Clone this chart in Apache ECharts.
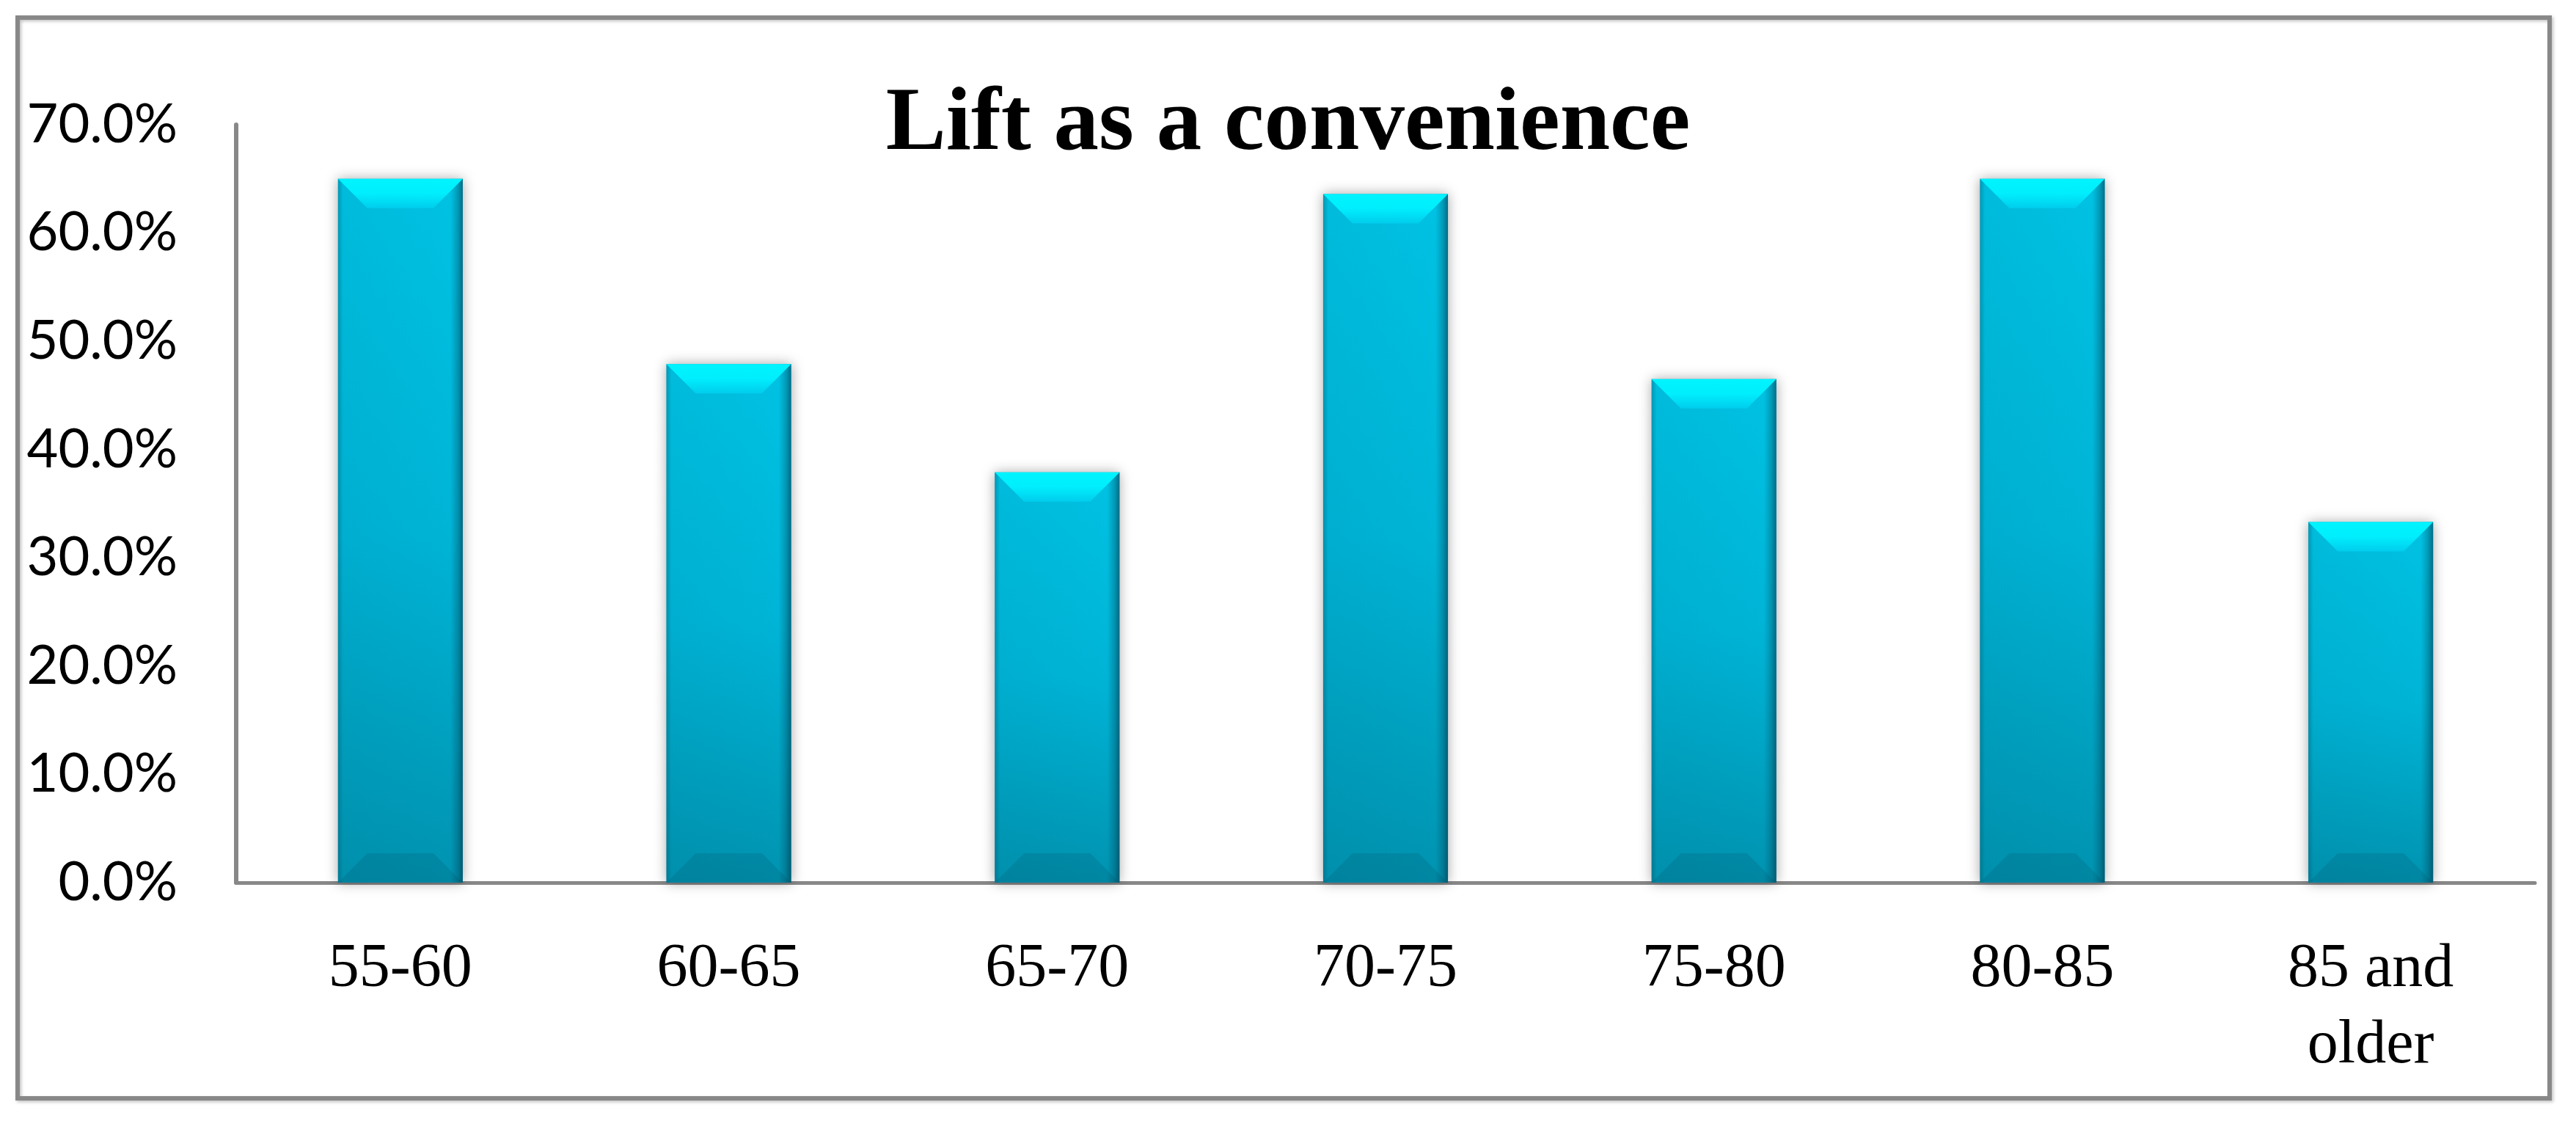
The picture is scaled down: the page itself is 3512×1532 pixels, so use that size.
<!DOCTYPE html>
<html>
<head>
<meta charset="utf-8">
<title>Lift as a convenience</title>
<script src="https://cdn.jsdelivr.net/npm/echarts@6/dist/echarts.min.js"></script>
<style>
  html, body { margin: 0; padding: 0; background: #fff; }
  #main { width: 3512px; height: 1532px; }
</style>
</head>
<body>
<div id="main"></div>
<script>
// age groups and share of people who see the lift as a convenience (%)
var categories = ['55-60', '60-65', '65-70', '70-75', '75-80', '80-85', '85 and\nolder'];
var liftValues = [65.0, 47.9, 37.9, 63.6, 46.5, 65.0, 33.3];
var yTicks = [0, 10, 20, 30, 40, 50, 60, 70];

var chart = echarts.init(document.getElementById('main'));

// bevelled 3d-looking bar, drawn from the axis scales
var renderBar = function (params, api) {
	var top = api.coord([api.value(0), api.value(1)]);
	var base = api.coord([api.value(0), 0]);
	var w = api.size([1, 0])[0] * 0.38;
	var x0 = top[0] - w / 2, x1 = top[0] + w / 2;
	var y0 = top[1], y1 = base[1];
	var b = Math.min(40, (y1 - y0) / 3);
	return {
		type: 'group',
		children: [
			{
				type: 'rect',
				shape: { x: x0, y: y0, width: w, height: y1 - y0 },
				style: {
					fill: { type: 'linear', x: 0, y: 0, x2: 0, y2: 1, colorStops: [
						{ offset: 0, color: '#00c2e3' },
						{ offset: 0.5, color: '#00b4d6' },
						{ offset: 1, color: '#0093b0' }
					] },
					shadowBlur: 16,
					shadowColor: 'rgba(0,0,0,0.35)'
				}
			},
			{
				type: 'rect',
				shape: { x: x0, y: y0, width: w, height: y1 - y0 },
				style: {
					fill: { type: 'linear', x: 0, y: 0, x2: 1, y2: 0, colorStops: [
						{ offset: 0, color: 'rgba(0,70,90,0.35)' },
						{ offset: 0.04, color: 'rgba(0,70,90,0.05)' },
						{ offset: 0.9, color: 'rgba(0,70,90,0)' },
						{ offset: 0.96, color: 'rgba(0,60,80,0.3)' },
						{ offset: 1, color: 'rgba(0,50,70,0.6)' }
					] }
				}
			},
			{
				type: 'polygon',
				shape: { points: [[x0, y0], [x1, y0], [x1 - b, y0 + b], [x0 + b, y0 + b]] },
				style: {
					fill: { type: 'linear', x: 0, y: 0, x2: 0, y2: 1, colorStops: [
						{ offset: 0, color: '#00f4ff' },
						{ offset: 0.5, color: '#00eefd' },
						{ offset: 1, color: '#00cdec' }
					] }
				}
			},
			{
				type: 'polygon',
				shape: { points: [[x0 + b, y1 - b], [x1 - b, y1 - b], [x1, y1], [x0, y1]] },
				style: { fill: 'rgba(0,60,80,0.15)' }
			}
		]
	};
};

chart.setOption({
	animation: false,
	backgroundColor: '#fff',
	title: {
		text: 'Lift as a convenience',
		left: 'center',
		top: 110,
		padding: 0,
		textStyle: {
			fontFamily: 'Liberation Serif',
			fontWeight: 'bold',
			fontSize: 123,
			color: '#000'
		}
	},
	graphic: [
		{
			type: 'rect',
			z: -10,
			shape: { x: 24, y: 24, width: 3452, height: 1473 },
			style: {
				fill: 'none',
				stroke: '#888',
				lineWidth: 6,
				shadowBlur: 4,
				shadowOffsetX: 2,
				shadowOffsetY: 2,
				shadowColor: 'rgba(0,0,0,0.25)'
			}
		}
	],
	grid: {
		left: 322,
		right: 56,
		top: 170,
		bottom: 329
	},
	xAxis: {
		type: 'category',
		data: categories,
		axisTick: { show: false },
		axisLine: { lineStyle: { color: '#888', width: 5 } },
		axisLabel: {
			interval: 0,
			margin: 67,
			fontFamily: 'Liberation Serif',
			fontSize: 84,
			lineHeight: 104,
			color: '#000'
		}
	},
	yAxis: {
		type: 'value',
		min: yTicks[0],
		max: yTicks[yTicks.length - 1],
		interval: 10,
		axisTick: { show: false },
		splitLine: { show: false },
		axisLine: { show: true, lineStyle: { color: '#888', width: 6 } },
		axisLabel: {
			margin: 80,
			fontFamily: 'Lato',
			fontSize: 74,
			color: '#000',
			formatter: function (v) { return v.toFixed(1) + '%'; }
		}
	},
	series: [
		{
			type: 'custom',
			renderItem: renderBar,
			encode: { x: 0, y: 1 },
			data: liftValues.map(function (v, i) { return [i, v]; })
		}
	]
});
</script>
</body>
</html>
